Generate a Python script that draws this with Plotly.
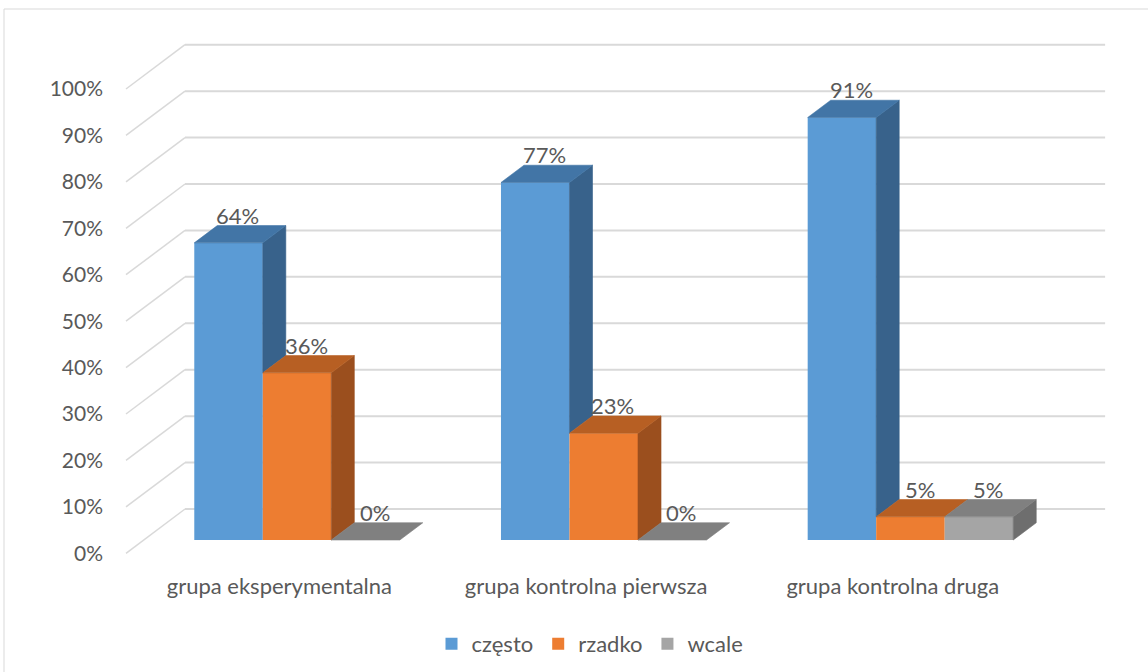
import plotly.graph_objects as go

# ---------------- data ----------------
categories = ["grupa eksperymentalna", "grupa kontrolna pierwsza", "grupa kontrolna druga"]
series_names = ["często", "rzadko", "wcale"]
czesto = [64, 77, 91]
rzadko = [36, 23, 5]
wcale = [0, 0, 5]
y_tick_values = [0, 10, 20, 30, 40, 50, 60, 70, 80, 90, 100]
y_tick_labels = ["0%", "10%", "20%", "30%", "40%", "50%", "60%", "70%", "80%", "90%", "100%"]

series_values = [czesto, rzadko, wcale]

# ---------------- style ----------------
FRONT = ["#5B9BD5", "#ED7D31", "#A5A5A5"]
TOP = ["#4275A6", "#B75F23", "#808080"]
SIDE = ["#38628B", "#9B4F1E", "#6E6E6E"]
TEXT = "#595959"
GRID = "#D9D9D9"
FONT = "Lato"
FS_Y = 21
FS = 22

DEPTH_X = 0.1924   # full floor depth, in category units
DEPTH_Y = 9.54     # full floor depth, in % units
Z0, Z1 = 0.30, 0.69  # bar front / back planes (fraction of floor depth)
BW = 0.2234          # bar width (category units)
N = len(series_values)
HALF = BW * N / 2

fig = go.Figure()

def lefts(ci, si):
    return ci - HALF + si * BW

# back-wall gridlines + diagonals (behind everything)
shapes = []
xl_front = -0.5
xl_back = -0.5 + DEPTH_X
xr_back = len(categories) - 0.5 + DEPTH_X
for v in y_tick_values:
    shapes.append(dict(type="line", xref="x", yref="y", layer="below",
                       x0=xl_back, x1=xr_back, y0=v + DEPTH_Y, y1=v + DEPTH_Y,
                       line=dict(color=GRID, width=2)))
    shapes.append(dict(type="line", xref="x", yref="y", layer="below",
                       x0=xl_front, x1=xl_back, y0=v, y1=v + DEPTH_Y,
                       line=dict(color=GRID, width=1.5)))

# front faces as real bars
for si, (name, vals) in enumerate(zip(series_names, series_values)):
    xs = [lefts(ci, si) + BW / 2 + Z0 * DEPTH_X for ci in range(len(categories))]
    fig.add_trace(go.Bar(
        x=xs, y=vals, base=Z0 * DEPTH_Y, width=BW, name=name,
        marker=dict(color=FRONT[si], line=dict(width=0)),
        hoverinfo="skip", showlegend=True,
    ))

# side and top faces (painter's order left to right)
annotations = []
for si, vals in enumerate(series_values):
    sx, sy, tx, ty = [], [], [], []
    for ci, v in enumerate(vals):
        L = lefts(ci, si)
        R = L + BW
        nxt = series_values[si + 1][ci] if si + 1 < N else 0
        lo = max(0, nxt)
        if v > lo:
            sx += [R + Z0 * DEPTH_X, R + Z1 * DEPTH_X, R + Z1 * DEPTH_X, R + Z0 * DEPTH_X, R + Z0 * DEPTH_X, None]
            sy += [lo + Z0 * DEPTH_Y, lo + Z1 * DEPTH_Y, v + Z1 * DEPTH_Y, v + Z0 * DEPTH_Y, lo + Z0 * DEPTH_Y, None]
        tx += [L + Z0 * DEPTH_X, R + Z0 * DEPTH_X, R + Z1 * DEPTH_X, L + Z1 * DEPTH_X, L + Z0 * DEPTH_X, None]
        ty += [v + Z0 * DEPTH_Y, v + Z0 * DEPTH_Y, v + Z1 * DEPTH_Y, v + Z1 * DEPTH_Y, v + Z0 * DEPTH_Y, None]
        annotations.append(dict(
            x=(L + R) / 2 + (Z0 + (Z1 - Z0) * 0.4) * DEPTH_X,
            y=v + Z1 * DEPTH_Y, xref="x", yref="y",
            text=f"{v}%", showarrow=False, yanchor="bottom", yshift=-5,
            font=dict(family=FONT, size=FS, color=TEXT)))
    if sx:
        fig.add_trace(go.Scatter(x=sx, y=sy, mode="lines", fill="toself",
                                 fillcolor=SIDE[si], line=dict(width=0.6, color=SIDE[si]),
                                 hoverinfo="skip", showlegend=False))
    fig.add_trace(go.Scatter(x=tx, y=ty, mode="lines", fill="toself",
                             fillcolor=TOP[si], line=dict(width=0.6, color=TOP[si]),
                             hoverinfo="skip", showlegend=False))

# outer chart border
L_M, R_M, T_M, B_M = 120, 33, 35, 112
W, H = 1148, 672
pw, ph = W - L_M - R_M, H - T_M - B_M
shapes.append(dict(type="rect", xref="paper", yref="paper", layer="below",
                   x0=(4 - L_M) / pw, x1=(1152 - L_M) / pw,
                   y0=(H - B_M - 680) / ph, y1=(H - B_M - 9) / ph,
                   line=dict(color=GRID, width=1)))

PX_PER_CAT = 306.7
PX_PER_PCT = 4.643
FRONT_X0 = 126.0
FRONT_Y0 = 553.3
x_range = [-0.5 + (L_M - FRONT_X0) / PX_PER_CAT, -0.5 + (W - R_M - FRONT_X0) / PX_PER_CAT]
y_range = [(FRONT_Y0 - (H - B_M)) / PX_PER_PCT, (FRONT_Y0 - T_M) / PX_PER_PCT]

fig.update_layout(
    template="none",
    width=W, height=H,
    margin=dict(l=L_M, r=R_M, t=T_M, b=B_M, autoexpand=False),
    paper_bgcolor="white", plot_bgcolor="white",
    barmode="overlay",
    font=dict(family=FONT, size=FS, color=TEXT),
    shapes=shapes, annotations=annotations,
    xaxis=dict(range=x_range, tickvals=list(range(len(categories))), ticktext=categories,
               showgrid=False, zeroline=False, showline=False, ticks="",
               ticklabelstandoff=11, fixedrange=True, automargin=False,
               tickfont=dict(family=FONT, size=FS, color=TEXT)),
    yaxis=dict(range=y_range, tickvals=y_tick_values, ticktext=y_tick_labels,
               showgrid=False, zeroline=False, showline=False, ticks="",
               ticklabelstandoff=16, fixedrange=True, automargin=False,
               tickfont=dict(family=FONT, size=FS_Y, color=TEXT)),
    legend=dict(orientation="h", x=(590 - L_M) / pw, xanchor="center",
                y=(H - B_M - 644) / ph, yanchor="middle",
                font=dict(family=FONT, size=FS, color=TEXT),
                bgcolor="rgba(0,0,0,0)", traceorder="normal"),
    hovermode=False,
)

fig.write_html("out.html")
